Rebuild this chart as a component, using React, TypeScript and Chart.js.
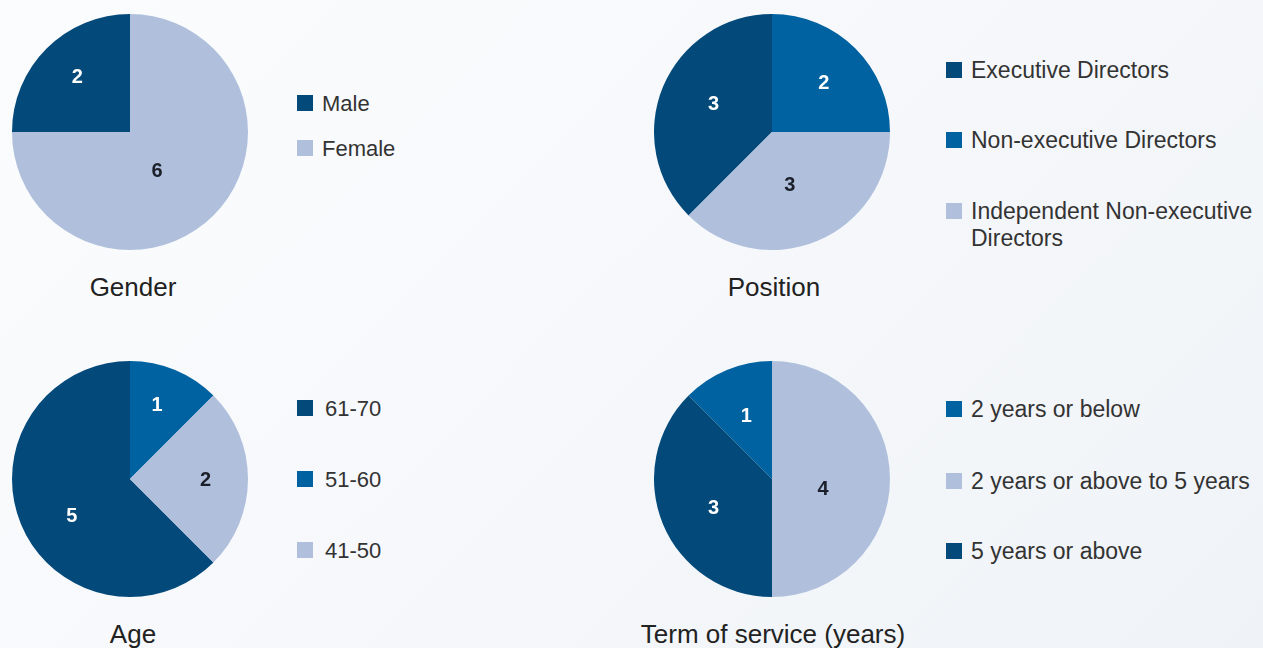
import React, { useEffect, useRef } from "react";
import { Chart, registerables } from "chart.js";

Chart.register(...registerables);

// ---- Data ----
const genderLabels = ["Male", "Female"];
const genderValues = [2, 6];

const positionLabels = [
  "Executive Directors",
  "Non-executive Directors",
  "Independent Non-executive Directors",
];
const positionValues = [3, 2, 3];

const ageLabels = ["61-70", "51-60", "41-50"];
const ageValues = [5, 1, 2];

const termLabels = [
  "2 years or below",
  "2 years or above to 5 years",
  "5 years or above",
];
const termValues = [1, 4, 3];

const titles = ["Gender", "Position", "Age", "Term of service (years)"];

// ---- Styles ----
const DARK = "#03497a";
const MID = "#0062a0";
const LIGHT = "#b0c0dc";
const FONT = '"Liberation Sans", Arial, Helvetica, sans-serif';

type PieSpec = {
  labels: string[];
  values: number[];
  colors: string[];
  textColors: string[];
  labelRadius: number[];
  labelAngle: number[];
  rotation: number;
  left: number;
  top: number;
  size: number;
  title: string;
  titleCx: number;
  titleCy: number;
  legendSx: number;
  legendTx: number;
  legendCy: number[];
  legendFont: number;
  legendWidth: number;
};

const specs: PieSpec[] = [
  {
    labels: genderLabels,
    values: genderValues,
    colors: [DARK, LIGHT],
    textColors: ["#ffffff", "#1b1f2a"],
    labelRadius: [0.65, 0.4],
    labelAngle: [1.6, 10],
    rotation: -90,
    left: 12,
    top: 14,
    size: 236,
    title: titles[0],
    titleCx: 133,
    titleCy: 287,
    legendSx: 297,
    legendTx: 322,
    legendCy: [103, 148],
    legendFont: 22,
    legendWidth: 250,
  },
  {
    labels: positionLabels,
    values: positionValues,
    colors: [DARK, MID, LIGHT],
    textColors: ["#ffffff", "#ffffff", "#1b1f2a"],
    labelRadius: [0.55, 0.61, 0.47],
    labelAngle: [3.3, 1, 3.7],
    rotation: -135,
    left: 654,
    top: 14,
    size: 236,
    title: titles[1],
    titleCx: 774,
    titleCy: 287,
    legendSx: 946,
    legendTx: 971,
    legendCy: [70, 140, 211],
    legendFont: 23,
    legendWidth: 292,
  },
  {
    labels: ageLabels,
    values: ageValues,
    colors: [DARK, MID, LIGHT],
    textColors: ["#ffffff", "#ffffff", "#1b1f2a"],
    labelRadius: [0.58, 0.67, 0.64],
    labelAngle: [-9.3, -2.5, 0],
    rotation: 135,
    left: 12,
    top: 361,
    size: 236,
    title: titles[2],
    titleCx: 133,
    titleCy: 634,
    legendSx: 297,
    legendTx: 325,
    legendCy: [408, 479, 550],
    legendFont: 22,
    legendWidth: 250,
  },
  {
    labels: termLabels,
    values: termValues,
    colors: [MID, LIGHT, DARK],
    textColors: ["#ffffff", "#1b1f2a", "#ffffff"],
    labelRadius: [0.58, 0.44, 0.55],
    labelAngle: [0.4, 10, -3.3],
    rotation: -45,
    left: 654,
    top: 361,
    size: 236,
    title: titles[3],
    titleCx: 773,
    titleCy: 634,
    legendSx: 946,
    legendTx: 971,
    legendCy: [409, 481, 551],
    legendFont: 23,
    legendWidth: 292,
  },
];

const valueLabelPlugin = {
  id: "valueLabels",
  afterDatasetsDraw(chart: any, _args: any, opts: any) {
    const ctx = chart.ctx;
    const meta = chart.getDatasetMeta(0);
    const data = chart.data.datasets[0].data;
    ctx.save();
    ctx.font = `bold 20px ${FONT}`;
    ctx.textAlign = "center";
    ctx.textBaseline = "middle";
    meta.data.forEach((arc: any, i: number) => {
      const p = arc.getProps(["x", "y", "startAngle", "endAngle", "outerRadius"], true);
      const mid = (p.startAngle + p.endAngle) / 2 + ((opts.angle[i] ?? 0) * Math.PI) / 180;
      const r = p.outerRadius * (opts.radius[i] ?? 0.6);
      ctx.fillStyle = opts.colors[i];
      ctx.fillText(String(data[i]), p.x + Math.cos(mid) * r, p.y + Math.sin(mid) * r + 1);
    });
    ctx.restore();
  },
};

function Pie({ spec }: { spec: PieSpec }) {
  const ref = useRef<HTMLCanvasElement>(null);
  useEffect(() => {
    if (!ref.current) return;
    const chart = new Chart(ref.current, {
      type: "pie",
      data: {
        labels: spec.labels,
        datasets: [
          {
            data: spec.values,
            backgroundColor: spec.colors,
            borderWidth: 0,
          },
        ],
      },
      options: {
        responsive: false,
        animation: false,
        rotation: spec.rotation,
        layout: { padding: 0 },
        plugins: {
          legend: { display: false },
          tooltip: { enabled: false },
          valueLabels: { colors: spec.textColors, radius: spec.labelRadius, angle: spec.labelAngle },
        } as any,
      },
      plugins: [valueLabelPlugin],
    });
    return () => chart.destroy();
  }, [spec]);
  return (
    <canvas
      ref={ref}
      width={spec.size}
      height={spec.size}
      style={{ position: "absolute", left: spec.left, top: spec.top, width: spec.size, height: spec.size }}
    />
  );
}

function Block({ spec }: { spec: PieSpec }) {
  const lh = 27;
  return (
    <>
      <Pie spec={spec} />
      <div
        style={{
          position: "absolute",
          left: spec.titleCx - 200,
          width: 400,
          top: spec.titleCy - 16,
          lineHeight: "32px",
          fontSize: 26,
          textAlign: "center",
          color: "#222222",
          fontFamily: FONT,
          whiteSpace: "nowrap",
        }}
      >
        {spec.title}
      </div>
      {spec.labels.map((lab, i) => (
        <React.Fragment key={lab}>
          <div
            style={{
              position: "absolute",
              left: spec.legendSx,
              top: spec.legendCy[i] - 8,
              width: 16,
              height: 16,
              background: spec.colors[i],
            }}
          />
          <div
            style={{
              position: "absolute",
              left: spec.legendTx,
              top: spec.legendCy[i] - lh / 2,
              width: spec.legendWidth,
              lineHeight: `${lh}px`,
              fontSize: spec.legendFont,
              color: "#333333",
              fontFamily: FONT,
            }}
          >
            {lab}
          </div>
        </React.Fragment>
      ))}
    </>
  );
}

export default function App() {
  return (
    <div
      style={{
        position: "absolute",
        left: 0,
        top: 0,
        width: 1263,
        height: 648,
        overflow: "hidden",
        background: "linear-gradient(135deg, #fbfcfd 0%, #f6f8fb 50%, #eff3f7 100%)",
      }}
    >
      {specs.map((s) => (
        <Block key={s.title} spec={s} />
      ))}
    </div>
  );
}
